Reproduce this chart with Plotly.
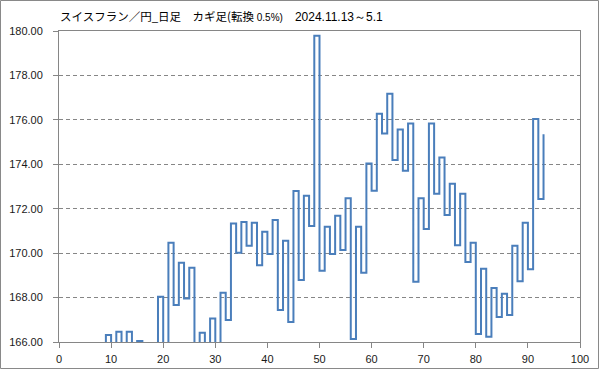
import plotly.graph_objects as go

# Kagi reversal levels; vertical k is drawn at x = start_x + k - 1 from level[k-1] to level[k]
start_x = 9
kagi_levels = [
    165.2, 166.31, 165.5, 166.46, 165.6, 166.46, 165.5, 166.05, 165.1, 165.7,
    165.3, 168.04, 165.6, 170.47, 167.66, 169.57, 167.96, 169.34, 165.8, 166.42,
    165.7, 167.06, 165.9, 168.22, 166.99, 171.34, 170.02, 171.40, 170.33, 171.37,
    169.46, 170.96, 169.96, 171.49, 167.44, 170.56, 166.90, 172.80, 168.79, 172.58,
    171.22, 179.79, 169.21, 171.19, 169.96, 171.68, 170.14, 172.47, 166.13, 171.19,
    169.12, 174.04, 172.81, 176.28, 175.39, 177.18, 174.19, 175.57, 173.71, 175.84,
    168.71, 172.47, 171.09, 175.84, 172.67, 174.30, 171.72, 173.12, 170.36, 172.67,
    169.60, 170.47, 166.36, 169.30, 166.24, 168.43, 167.12, 168.17, 167.21, 170.33,
    168.74, 171.37, 169.28, 176.04, 172.44, 175.35,
]

y_ticks = [166, 168, 170, 172, 174, 176, 178, 180]
x_ticks = [0, 10, 20, 30, 40, 50, 60, 70, 80, 90, 100]

title_main = "スイスフラン／円_日足　カギ足(転換"
title_rate = " 0.5%)"
title_period = "　2024.11.13～5.1"

# build Kagi path
xs, ys = [start_x], [kagi_levels[0]]
n = len(kagi_levels) - 1
for k in range(1, n + 1):
    xv = start_x + k - 1
    xs.append(xv); ys.append(kagi_levels[k])
    if k < n:
        xs.append(xv + 1); ys.append(kagi_levels[k])

fig = go.Figure()
fig.add_trace(go.Scatter(x=xs, y=ys, mode="lines",
                         line=dict(color="#4A7EBB", width=2),
                         hoverinfo="skip", showlegend=False))

L, R, T, B = 59, 19, 31, 27
W, H = 599, 369
pw, ph = W - L - R, H - T - B

axis_col = "#868686"
fig.update_layout(
    width=W, height=H,
    margin=dict(l=L, r=R, t=T, b=B, pad=0, autoexpand=False),
    paper_bgcolor="white", plot_bgcolor="white",
    font=dict(family="Liberation Sans", size=11, color="#1a1a1a"),
    title=dict(
        text=(f"<span style='font-family:Noto Sans CJK JP;font-size:11.5px'>{title_main}</span>"
              f"<span style='font-family:Liberation Sans;font-size:10px'>{title_rate}</span>"
              f"<span style='font-family:Liberation Sans;font-size:12px'>{title_period}</span>"),
        xref="container", yref="container",
        x=60 / W, y=1 - 17 / H, xanchor="left", yanchor="middle",
        font=dict(family="Noto Sans CJK JP", size=11.5, color="#000000"),
        automargin=False,
    ),
    xaxis=dict(range=[0, 100], tickvals=x_ticks, ticktext=[str(v) for v in x_ticks],
               showgrid=False, zeroline=False, automargin=False,
               showline=True, linecolor=axis_col, linewidth=1, mirror=True,
               ticks="outside", ticklen=5, tickcolor=axis_col, tickwidth=1,
               ticklabelstandoff=2),
    yaxis=dict(range=[166, 180], tickvals=y_ticks, ticktext=[f"{v:.2f}" for v in y_ticks],
               showgrid=True, gridcolor=axis_col, gridwidth=1, griddash="4px,3px",
               zeroline=False, automargin=False,
               showline=True, linecolor=axis_col, linewidth=1, mirror=True,
               ticks="outside", ticklen=5, tickcolor=axis_col, tickwidth=1,
               ticklabelstandoff=8),
)

# outer chart-area border
fig.add_shape(type="rect", xref="paper", yref="paper",
              x0=(0.5 - L) / pw, x1=(W - 0.5 - L) / pw,
              y0=-(B - 0.5) / ph, y1=(ph + T - 0.5) / ph,
              line=dict(color="#898989", width=1), fillcolor="rgba(0,0,0,0)", layer="above")

fig.write_html("out.html",
               config={"displayModeBar": False, "staticPlot": True},
               post_script="document.body.style.margin='0';document.body.style.overflow='hidden';")
